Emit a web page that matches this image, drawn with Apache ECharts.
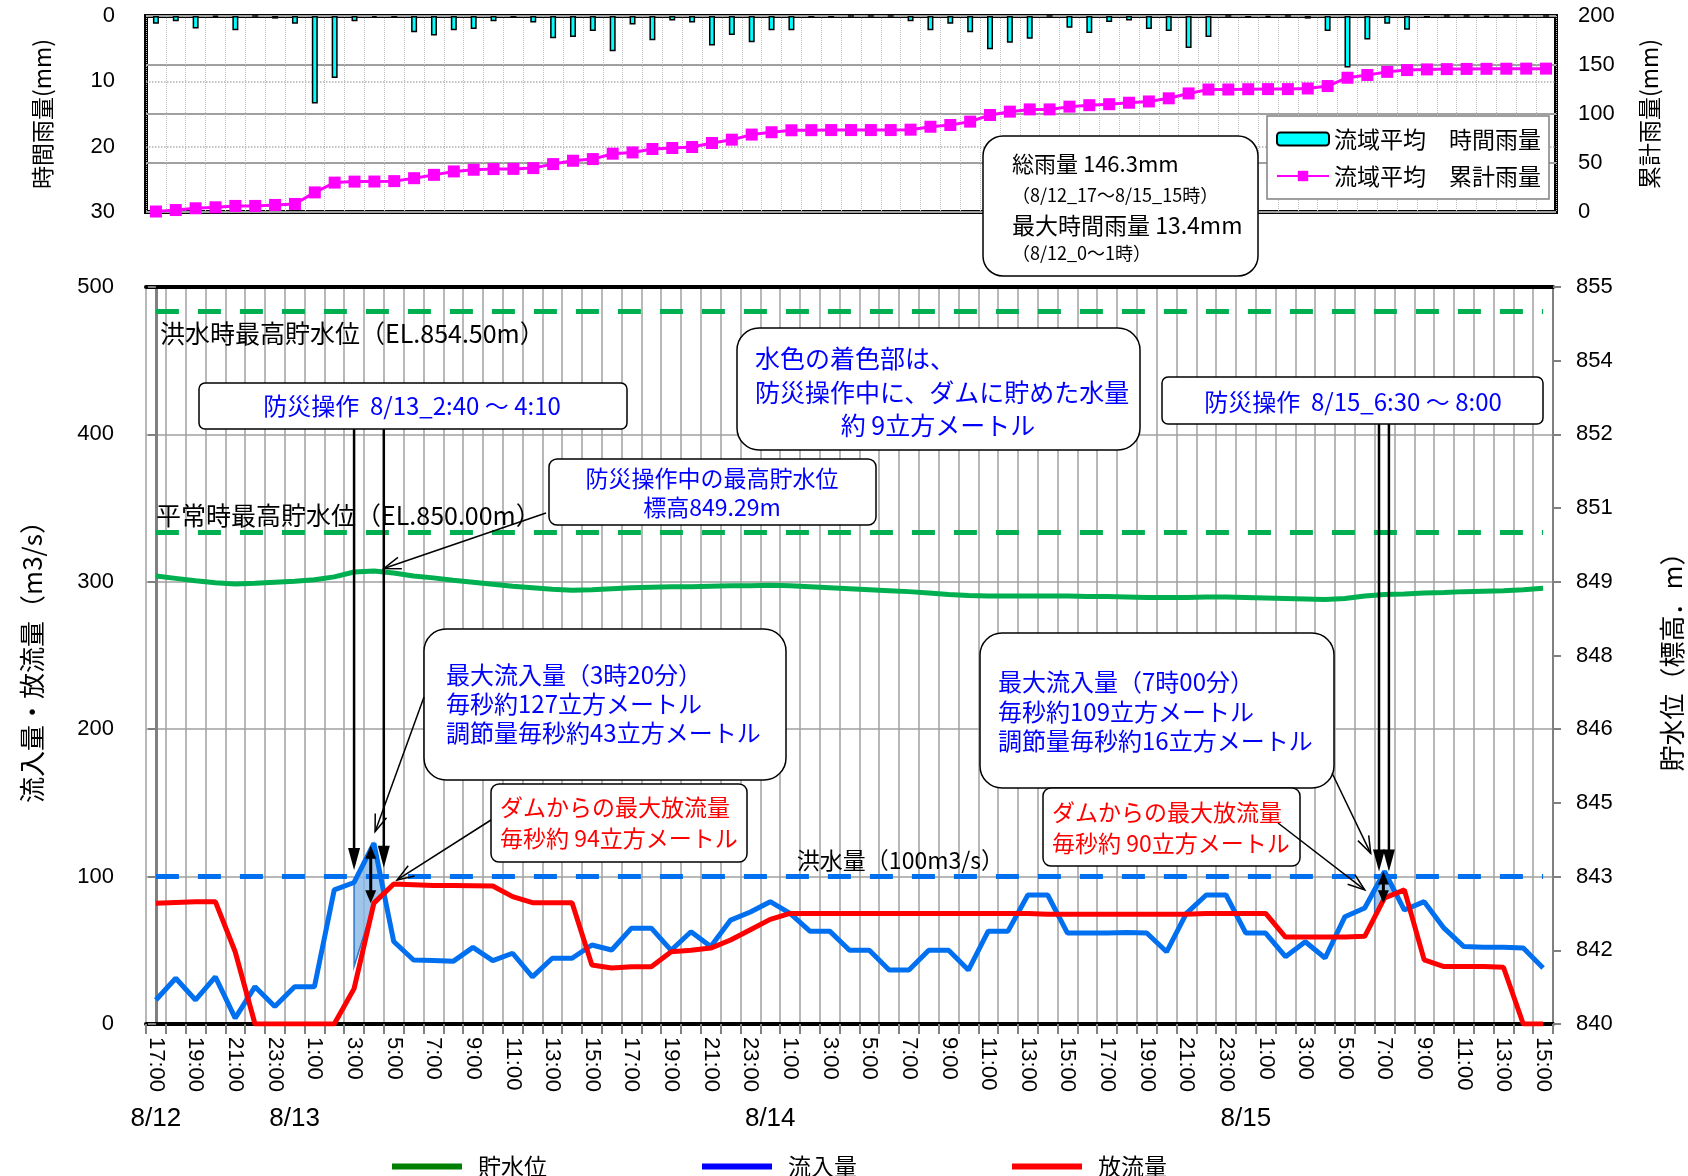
<!DOCTYPE html>
<html><head><meta charset="utf-8">
<script src="https://cdn.jsdelivr.net/npm/echarts@6/dist/echarts.min.js"></script>
<style>html,body{margin:0;padding:0;background:#fff}#c{width:1688px;height:1176px}</style>
</head><body><div id="c"></div>
<script>
// ---------- data ----------
const hourLabels = [
 '17:00','18:00','19:00','20:00','21:00','22:00','23:00',
 '0:00','1:00','2:00','3:00','4:00','5:00','6:00','7:00','8:00','9:00','10:00','11:00','12:00','13:00','14:00','15:00','16:00','17:00','18:00','19:00','20:00','21:00','22:00','23:00',
 '0:00','1:00','2:00','3:00','4:00','5:00','6:00','7:00','8:00','9:00','10:00','11:00','12:00','13:00','14:00','15:00','16:00','17:00','18:00','19:00','20:00','21:00','22:00','23:00',
 '0:00','1:00','2:00','3:00','4:00','5:00','6:00','7:00','8:00','9:00','10:00','11:00','12:00','13:00','14:00','15:00'];
const dateLabels = [[0,'8/12'],[7,'8/13'],[31,'8/14'],[55,'8/15']];

const hourlyRain = [1.2,0.8,1.9,0.1,2.2,0,0.4,
 1.2,13.4,9.5,0.8,0.2,0.3,2.5,3.0,2.2,2.0,0.8,0.3,1.0,3.4,3.2,2.3,5.4,1.3,3.7,0.7,1.0,4.5,2.9,4.0,
 2.2,2.2,0.3,0.3,0,0,0,0.8,2.2,1.2,2.5,5.1,4.1,3.5,0,1.8,2.6,0.9,0.7,2.0,2.3,4.9,3.2,0,
 0.3,0.15,0,0.4,2.3,7.9,3.6,1.2,2.1,0.3,0,0,0.1,0,0,0];
const cumulativeRain = [0.5,2.0,3.8,4.8,6.2,6.2,7.2,
 8.2,20.0,30.0,31.0,31.1,31.5,34.5,37.9,41.4,43.1,43.8,44.0,44.8,48.9,52.3,54.0,59.5,60.8,64.3,65.3,66.3,70.4,73.8,79.0,
 81.4,83.4,83.5,83.6,83.6,83.6,83.6,84.0,87.0,88.8,92.2,99.0,102.4,104.7,104.7,107.5,109.0,110.0,111.5,112.8,116.0,121.0,125.0,125.0,
 125.3,125.4,125.4,126.0,128.5,137.0,139.8,143.0,144.8,145.5,145.8,146.0,146.1,146.2,146.3,146.3];
const inflow = [16.3,31,16.3,32,4,25.3,11.8,
 25.3,25.3,91,96,122.6,56,43.4,43,42.5,52,43,48,32,44.6,44.6,53.6,50.2,65,65,50,62.6,52.5,70.5,76,
 83,75,63,63,50,50,36.6,36.6,50,50,36.6,63,63,87.5,87.5,61.7,61.7,61.7,62,61.7,49,75,87.5,87.5,
 61.7,61.7,45.7,55.8,44.8,72.8,78.7,103.5,77.3,83,65,52.5,52,52,51.5,38];
const outflow = [82,82.5,83,83,49,0,0,
 0,0,0,24,82,95,94.5,94,94,93.8,93.6,86.4,82.3,82.3,82.3,40,38,38.9,38.9,49,50,51.5,57,64,
 71,75,75,75,75,75,75,75,75,75,75,75,75,75,74.5,74.5,74.5,74.5,74.5,74.5,74.5,74.5,75,75,
 75,75,59,59,59,59,59.5,85.5,91,43.5,39,39,39,38.5,0,0];
const waterLevel = [849.12,849.07,849.02,848.98,848.955,848.97,848.99,
 849.01,849.04,849.10,849.20,849.22,849.18,849.12,849.08,849.03,848.99,848.95,848.91,848.88,848.85,848.83,848.84,848.86,848.88,848.89,848.90,848.90,848.91,848.92,848.92,
 848.93,848.92,848.90,848.88,848.86,848.84,848.82,848.80,848.77,848.74,848.72,848.71,848.71,848.71,848.71,848.71,848.70,848.70,848.69,848.68,848.68,848.68,848.69,848.69,
 848.68,848.67,848.66,848.65,848.64,848.66,848.71,848.74,848.75,848.77,848.78,848.80,848.81,848.82,848.84,848.87];
const FLOOD_MAX_LEVEL = 854.5;
const NORMAL_MAX_LEVEL = 850.0;
const FLOOD_FLOW = 100;
// stored-water areas during flood control (x = hour index, y = m3/s)
const storageArea1 = [[10,96],[11,122.6],[11.51,88.6],[11,82],[10,39]];
const storageArea2 = [[61.5,91],[62,103.5],[62.45,88.5],[62,85.5],[61.5,72]];

// ---------- chart ----------
const CJK = '"Noto Sans CJK JP", "Noto Sans", sans-serif';
const LAT = '"Liberation Sans", Arial, sans-serif';
const GRAY = '#A0A0A0';

const option = {
  animation: false,
  backgroundColor: '#fff',
  textStyle: {fontFamily: CJK, color: '#000'},
  grid: [
    {left: 146, top: 16, width: 1410, height: 196, show: true, borderColor: '#000', borderWidth: 4, backgroundColor: 'transparent', outerBoundsMode: 'none', containLabel: false},
    {left: 146, top: 287, width: 1407, height: 737, outerBoundsMode: 'none', containLabel: false}
  ],
  legend: [
    {orient: 'vertical', left: 1267, top: 116, padding: [11, 8, 11, 9], itemWidth: 52, itemHeight: 13, itemGap: 13,
     backgroundColor: '#fff', borderColor: '#808080', borderWidth: 1.5, z: 20,
     textStyle: {fontSize: 23, fontFamily: CJK, color: '#000', lineHeight: 24},
     data: ['流域平均　時間雨量', '流域平均　累計雨量']},
    {orient: 'horizontal', left: 387, top: 1150, itemWidth: 70, itemHeight: 6, itemGap: 155, icon: 'rect',
     textStyle: {fontSize: 23, fontFamily: CJK, color: '#000', padding: [0, 0, 0, 11]},
     data: [{name: '貯水位', itemStyle: {color: '#008000'}},
            {name: '流入量', itemStyle: {color: '#0000FF'}},
            {name: '放流量', itemStyle: {color: '#FF0000'}}]}
  ],
  xAxis: [
    {gridIndex: 0, type: 'category', data: hourLabels, boundaryGap: true,
     axisLine: {show: false}, axisTick: {show: false}, axisLabel: {show: false},
     splitLine: {show: true, interval: 0, lineStyle: {color: '#BDBDBD', type: 'dotted', width: 1}}},
    {gridIndex: 1, type: 'category', data: hourLabels, boundaryGap: true, position: 'bottom',
     axisLine: {show: true, lineStyle: {color: '#000', width: 4}},
     axisTick: {show: true, interval: 0, length: 10, inside: false, lineStyle: {color: '#808080', width: 2}},
     axisLabel: {show: true, interval: 1, rotate: -90, margin: 13, fontSize: 22, fontFamily: LAT, color: '#000', hideOverlap: false},
     splitLine: {show: true, interval: 0, lineStyle: {color: GRAY, width: 1.5}}},
    {gridIndex: 1, type: 'category', data: hourLabels, boundaryGap: true, position: 'bottom',
     axisLine: {show: false}, axisTick: {show: false}, splitLine: {show: false},
     axisLabel: {show: true, interval: 0, margin: 82, fontSize: 26, fontFamily: LAT, color: '#000', hideOverlap: false,
       formatter: (v, i) => { const d = dateLabels.find(e => e[0] === i); return d ? d[1] : ''; }}},
    {gridIndex: 1, type: 'value', min: -0.5, max: 70.5, show: false},
    {gridIndex: 1, type: 'category', data: hourLabels, position: 'top',
     axisLine: {show: true, lineStyle: {color: '#000', width: 4}}, axisTick: {show: false}, axisLabel: {show: false}, splitLine: {show: false}}
  ],
  yAxis: [
    {gridIndex: 0, type: 'value', inverse: true, min: 0, max: 30, interval: 10, position: 'left',
     name: '時間雨量(mm)', nameLocation: 'middle', nameGap: 92, nameRotate: 90, nameMoveOverlap: false,
     nameTextStyle: {fontSize: 23, fontFamily: CJK, color: '#000'},
     axisLine: {show: false}, axisTick: {show: false},
     axisLabel: {margin: 31, fontSize: 22, fontFamily: LAT, color: '#000'},
     splitLine: {show: true, lineStyle: {color: '#B0B0B0', type: 'dotted', width: 1.5}}},
    {gridIndex: 0, type: 'value', min: 0, max: 200, interval: 50, position: 'right',
     name: '累計雨量(mm)', nameLocation: 'middle', nameGap: 82, nameRotate: 90, nameMoveOverlap: false,
     nameTextStyle: {fontSize: 23, fontFamily: CJK, color: '#000'},
     axisLine: {show: false}, axisTick: {show: false},
     axisLabel: {margin: 22, fontSize: 22, fontFamily: LAT, color: '#000'},
     splitLine: {show: true, lineStyle: {color: GRAY, width: 2}}},
    {gridIndex: 1, type: 'value', min: 0, max: 500, interval: 100, position: 'left',
     name: '流入量・放流量（m3/s）', nameLocation: 'middle', nameGap: 101, nameRotate: 90, nameMoveOverlap: false,
     nameTextStyle: {fontSize: 26, fontFamily: CJK, color: '#000'},
     axisLine: {show: true, lineStyle: {color: '#808080', width: 3}},
     axisTick: {show: true, inside: false, length: 8, lineStyle: {color: '#808080', width: 2}},
     axisLabel: {margin: 32, fontSize: 22, fontFamily: LAT, color: '#000'},
     splitLine: {show: true, lineStyle: {color: GRAY, width: 1.5}}},
    {gridIndex: 1, type: 'value', min: 840, max: 855, interval: 1.5, position: 'right',
     name: '貯水位（標高．m）', nameLocation: 'middle', nameGap: 106, nameRotate: 90, nameMoveOverlap: false,
     nameTextStyle: {fontSize: 26, fontFamily: CJK, color: '#000'},
     axisLine: {show: true, lineStyle: {color: '#808080', width: 2}},
     axisTick: {show: true, inside: false, length: 8, lineStyle: {color: '#808080', width: 2}},
     axisLabel: {margin: 23, fontSize: 22, fontFamily: LAT, color: '#000', formatter: v => String(Math.round(v))},
     splitLine: {show: false}}
  ],
  series: [
    {name: '流域平均　時間雨量', type: 'bar', xAxisIndex: 0, yAxisIndex: 0, data: hourlyRain, barWidth: 6,
     itemStyle: {color: '#00FFFF', borderColor: '#000', borderWidth: 1.5}},
    {name: '流域平均　累計雨量', type: 'line', xAxisIndex: 0, yAxisIndex: 1, data: cumulativeRain,
     symbol: 'rect', symbolSize: 12, showAllSymbol: true, color: '#FF00FF',
     itemStyle: {color: '#FF00FF'}, lineStyle: {color: '#FF00FF', width: 3}},
    {name: 'storage', type: 'custom', xAxisIndex: 3, yAxisIndex: 2, silent: true,
     data: [[10, 96], [61.5, 91]],
     renderItem: (params, api) => {
       const poly = [storageArea1, storageArea2][params.dataIndex];
       return {type: 'polygon', shape: {points: poly.map(p => api.coord(p))},
               style: {fill: 'rgba(135,182,230,0.8)', stroke: '#2F75C8', lineWidth: 1.5}};
     }},
    {name: '貯水位', type: 'line', xAxisIndex: 1, yAxisIndex: 3, data: waterLevel, symbol: 'none',
     color: '#00B050', lineStyle: {color: '#00B050', width: 5},
     markLine: {silent: true, symbol: ['none', 'none'], label: {show: false},
       lineStyle: {color: '#00B050', width: 5, type: [23, 19]},
       data: [[{coord: [0, FLOOD_MAX_LEVEL]}, {coord: [70, FLOOD_MAX_LEVEL]}],
              [{coord: [0, NORMAL_MAX_LEVEL]}, {coord: [70, NORMAL_MAX_LEVEL]}]]}},
    {name: '流入量', type: 'line', xAxisIndex: 1, yAxisIndex: 2, data: inflow, symbol: 'none',
     color: '#0070F0', lineStyle: {color: '#0070F0', width: 5},
     markLine: {silent: true, symbol: ['none', 'none'], label: {show: false},
       lineStyle: {color: '#0070F0', width: 5, type: [23, 19]},
       data: [[{coord: [0, FLOOD_FLOW]}, {coord: [70, FLOOD_FLOW]}]]}},
    {name: '放流量', type: 'line', xAxisIndex: 1, yAxisIndex: 2, data: outflow, symbol: 'none',
     color: '#FF0000', lineStyle: {color: '#FF0000', width: 5}}
  ]
};

const chart = echarts.init(document.getElementById('c'));
chart.setOption(option);

// ---------- annotations ----------
const P = (x, y) => chart.convertToPixel({xAxisIndex: 3, yAxisIndex: 2}, [x, y]);
const g = [];
const box = (x, y, w, h, r) => g.push({type: 'rect', z: 100, shape: {x, y, width: w, height: h, r},
  style: {fill: '#fff', stroke: '#000', lineWidth: 1.5}});
const txt = (s, x, y, size, color, align) => g.push({type: 'text', z: 102,
  style: {text: s, x, y, fontSize: size, fontFamily: CJK, fill: color || '#000', align: align || 'left', verticalAlign: 'middle'}});
const seg = (a, b, w) => g.push({type: 'line', z: 101, shape: {x1: a[0], y1: a[1], x2: b[0], y2: b[1]},
  style: {stroke: '#000', lineWidth: w}});
function head(from, tip, L, W, filled) {
  const dx = tip[0] - from[0], dy = tip[1] - from[1], len = Math.hypot(dx, dy) || 1;
  const ux = dx / len, uy = dy / len, bx = tip[0] - ux * L, by = tip[1] - uy * L;
  const p1 = [bx - uy * W, by + ux * W], p2 = [bx + uy * W, by - ux * W];
  if (filled) g.push({type: 'polygon', z: 101, shape: {points: [p1, tip, p2]}, style: {fill: '#000'}});
  else g.push({type: 'polyline', z: 101, shape: {points: [p1, tip, p2]}, style: {stroke: '#000', lineWidth: 1.5, fill: null}});
}
function arrowDown(xIdx, yVal, fromY) {
  const tip = P(xIdx, yVal); const s = [tip[0], fromY];
  seg(s, [tip[0], tip[1] - 10], 2.5); head(s, tip, 22, 6, true);
}
function callout(start, xIdx, yVal) {
  const tip = P(xIdx, yVal); seg(start, tip, 1.5); head(start, tip, 17, 6, false);
}
function dbl(xIdx, y1, y2) {
  const a = P(xIdx, y1), b = P(xIdx, y2);
  seg([a[0], a[1] + 8], [b[0], b[1] - 8], 3); head(b, a, 13, 5.5, true); head(a, b, 13, 5.5, true);
}

// top rainfall summary box
box(983, 136, 275, 140, 20);
txt('総雨量 146.3mm', 1012, 164, 22);
txt('（8/12_17～8/15_15時）', 1012, 195, 18);
txt('最大時間雨量 13.4mm', 1012, 225, 23);
txt('（8/12_0～1時）', 1012, 253, 18);

// level labels
txt('洪水時最高貯水位（EL.854.50m）', 160, 333, 25);
txt('平常時最高貯水位（EL.850.00m）', 156, 515, 25);
txt('洪水量（100m3/s）', 1004, 860, 23, '#000', 'right');

// flood-control period 1
box(199, 383, 428, 46, 6);
txt('防災操作  8/13_2:40 ～ 4:10', 412, 406, 24, '#0000FF', 'center');
arrowDown(10.0, 104.5, 429);
arrowDown(11.5, 106, 429);

// max level box
box(549, 459, 327, 66, 8);
txt('防災操作中の最高貯水位', 712, 478, 23, '#0000FF', 'center');
txt('標高849.29m', 712, 507, 23, '#0000FF', 'center');
callout([546, 513], 11.5, 309);

// stored water box
box(737, 328, 403, 122, 22);
txt('水色の着色部は、', 755, 358, 25, '#0000FF');
txt('防災操作中に、ダムに貯めた水量', 755, 392, 25, '#0000FF');
txt('約 9立方メートル', 938, 425, 25, '#0000FF', 'center');

// flood-control period 2
box(1162, 377, 381, 47, 6);
txt('防災操作  8/15_6:30 ～ 8:00', 1353, 402, 24, '#0000FF', 'center');
arrowDown(61.72, 103.5, 424);
arrowDown(62.22, 103.5, 424);

// inflow max 1
box(424, 629, 362, 151, 22);
txt('最大流入量（3時20分）', 446, 675, 24, '#0000FF');
txt('毎秒約127立方メートル', 446, 704, 24, '#0000FF');
txt('調節量毎秒約43立方メートル', 446, 733, 24, '#0000FF');
callout([424, 697], 11.06, 130.5);

// outflow max 1
box(491, 784, 256, 78, 8);
txt('ダムからの最大放流量', 500, 807, 23, '#FF0000');
txt('毎秒約 94立方メートル', 500, 838, 23, '#FF0000');
callout([491, 820], 12.17, 97.7);

// inflow max 2
box(980, 633, 354, 155, 22);
txt('最大流入量（7時00分）', 998, 682, 24, '#0000FF');
txt('毎秒約109立方メートル', 998, 712, 24, '#0000FF');
txt('調節量毎秒約16立方メートル', 998, 741, 24, '#0000FF');
callout([1332, 773], 61.3, 115.8);

// outflow max 2
box(1043, 788, 257, 78, 8);
txt('ダムからの最大放流量', 1052, 812, 23, '#FF0000');
txt('毎秒約 90立方メートル', 1052, 843, 23, '#FF0000');
callout([1278, 823], 61.0, 91);

// regulation double arrows
dbl(10.84, 121, 82);
dbl(61.94, 103.4, 82);

chart.setOption({graphic: {elements: g}});
</script></body></html>
